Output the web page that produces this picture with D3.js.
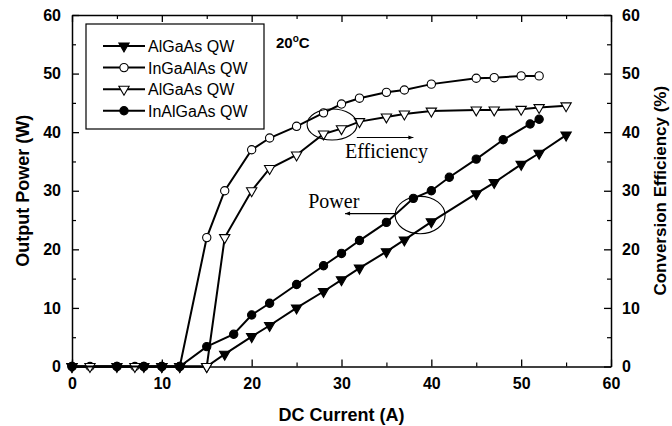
<!DOCTYPE html>
<html>
<head>
<meta charset="utf-8">
<script src="https://cdn.jsdelivr.net/npm/d3@7"></script>
<style>
    body { margin: 0; background: white; }
    svg { font-family: Arial, "Liberation Sans", sans-serif; display: block; }
</style>
</head>
<body>
<svg id="chart"></svg>
<script>
    // series (current in A, power in W, efficiency in %)
    let seriesNames = ["AlGaAs QW", "InGaAlAs QW", "AlGaAs QW", "InAlGaAs QW"];

    let algaasPowerX = [0, 5, 8, 10, 12, 15, 17, 20, 22, 25, 28, 30, 32, 35, 37, 40, 45, 47, 50, 52, 55];
    let algaasPowerY = [0, 0, 0, 0, 0, 0, 2.1, 5.1, 7.0, 10.0, 12.8, 14.8, 16.8, 19.6, 21.6, 24.7, 29.5, 31.4, 34.5, 36.4, 39.5];

    let ingaalasEffX = [0, 2, 5, 7, 8, 10, 12, 15, 17, 20, 22, 25, 28, 30, 32, 35, 37, 40, 45, 47, 50, 52];
    let ingaalasEffY = [0, 0, 0, 0, 0, 0, 0, 22, 30, 37, 39, 41, 43.3, 44.8, 45.8, 46.8, 47.2, 48.2, 49.2, 49.3, 49.6, 49.6];

    let algaasEffX = [0, 2, 7, 10, 12, 15, 17, 20, 22, 25, 28, 30, 32, 35, 37, 40, 45, 47, 50, 52, 55];
    let algaasEffY = [0, 0, 0, 0, 0, 0, 22, 30, 33.8, 36.1, 39.7, 40.6, 41.8, 42.6, 43.1, 43.6, 43.8, 43.8, 43.9, 44.2, 44.5];

    let inalgaasPowerX = [0, 5, 8, 10, 12, 15, 18, 20, 22, 25, 28, 30, 32, 35, 38, 40, 42, 45, 48, 51, 52];
    let inalgaasPowerY = [0, 0, 0, 0, 0, 3.4, 5.5, 8.8, 10.8, 14.0, 17.2, 19.3, 21.5, 24.6, 28.7, 30.0, 32.3, 35.4, 38.7, 41.4, 42.2];

    let majorTicks = [0, 10, 20, 30, 40, 50, 60];
    let minorTicks = [5, 15, 25, 35, 45, 55];

    function getConfig() {
        let width = 672;
        let height = 426;
        let margin = { top: 15, bottom: 59.5, left: 72, right: 61 };
        let bodyWidth = width - margin.left - margin.right;
        let bodyHeight = height - margin.top - margin.bottom;
        let container = d3.select("#chart").attr("width", width).attr("height", height);
        return { width, height, margin, bodyWidth, bodyHeight, container };
    }

    function getScales(config) {
        let xScale = d3.scaleLinear().domain([0, 60]).range([0, config.bodyWidth]);
        let yScale = d3.scaleLinear().domain([0, 60]).range([config.bodyHeight, 0]);
        return { xScale, yScale };
    }

    function symbolPath(kind, size) {
        let type = kind.startsWith("tri") ? d3.symbolTriangle : d3.symbolCircle;
        return d3.symbol().type(type).size(size)();
    }

    function drawMarker(sel, kind) {
        sel.append("path")
            .attr("d", kind.startsWith("tri") ? symbolPath(kind, 46) : symbolPath(kind, 54))
            .attr("transform", kind.startsWith("tri") ? "rotate(180)" : null)
            .attr("fill", kind.endsWith("Open") ? "white" : "black")
            .attr("stroke", "black")
            .attr("stroke-width", 1.1);
    }

    function drawAxes(scales, config) {
        let { xScale, yScale } = scales;
        let { container, margin, bodyWidth, bodyHeight } = config;
        let g = container.append("g").attr("transform", `translate(${margin.left},${margin.top})`);

        let axes = [
            { axis: d3.axisBottom(xScale), t: `translate(0,${bodyHeight})`, labels: true },
            { axis: d3.axisTop(xScale), t: "translate(0,0)", labels: false },
            { axis: d3.axisLeft(yScale), t: "translate(0,0)", labels: true },
            { axis: d3.axisRight(yScale), t: `translate(${bodyWidth},0)`, labels: true }
        ];
        axes.forEach(a => {
            let major = g.append("g").attr("transform", a.t)
                .call(a.axis.tickValues(majorTicks).tickSizeInner(-7).tickSizeOuter(0).tickPadding(11)
                    .tickFormat(a.labels ? d3.format("d") : ""));
            major.select(".domain").attr("stroke-width", 1.5);
            major.selectAll(".tick line").attr("stroke-width", 1.3);
            major.selectAll("text")
                .style("font-size", "16px")
                .style("font-weight", "bold")
                .attr("fill", "black");
            let minor = g.append("g").attr("transform", a.t)
                .call(a.axis.tickValues(minorTicks).tickSizeInner(-4).tickSizeOuter(0).tickFormat(""));
            minor.select(".domain").remove();
            minor.selectAll(".tick line").attr("stroke-width", 1.2);
        });

        // fix bottom labels vertical offset
        container.append("text")
            .attr("x", margin.left + bodyWidth / 2)
            .attr("y", 421)
            .attr("text-anchor", "middle")
            .style("font-size", "18px")
            .style("font-weight", "bold")
            .text("DC Current (A)");

        container.append("text")
            .attr("transform", `translate(29,${margin.top + bodyHeight / 2}) rotate(-90)`)
            .attr("text-anchor", "middle")
            .style("font-size", "18px")
            .style("font-weight", "bold")
            .text("Output Power (W)");

        container.append("text")
            .attr("transform", `translate(666,${margin.top + bodyHeight / 2}) rotate(-90)`)
            .attr("text-anchor", "middle")
            .style("font-size", "17px")
            .style("font-weight", "bold")
            .text("Conversion Efficiency (%)");
    }

    function drawSeries(scales, config) {
        let { xScale, yScale } = scales;
        let { container, margin } = config;
        let g = container.append("g").attr("transform", `translate(${margin.left},${margin.top})`);

        let series = [
            { xs: algaasPowerX, ys: algaasPowerY, kind: "triFilled" },
            { xs: ingaalasEffX, ys: ingaalasEffY, kind: "circleOpen" },
            { xs: algaasEffX, ys: algaasEffY, kind: "triOpen" },
            { xs: inalgaasPowerX, ys: inalgaasPowerY, kind: "circleFilled" }
        ];

        let line = d3.line().x(d => xScale(d[0])).y(d => yScale(d[1]));

        series.forEach(s => {
            let pts = s.xs.map((x, i) => [x, s.ys[i]]);
            g.append("path")
                .datum(pts)
                .attr("d", line)
                .attr("fill", "none")
                .attr("stroke", "black")
                .attr("stroke-width", 2);
            g.selectAll(null)
                .data(pts)
                .enter().append("g")
                .attr("transform", d => `translate(${xScale(d[0])},${yScale(d[1])})`)
                .each(function () { drawMarker(d3.select(this), s.kind); });
        });

        return series;
    }

    function drawLegend(series, config) {
        let { container } = config;
        let legend = container.append("g").attr("transform", "translate(86,24)");
        legend.append("rect")
            .attr("width", 178)
            .attr("height", 105)
            .attr("fill", "white")
            .attr("stroke", "black")
            .attr("stroke-width", 1.2);

        let rows = legend.selectAll(".entry")
            .data(series)
            .enter().append("g")
            .attr("class", "entry")
            .attr("transform", (d, i) => `translate(0,${22 + i * 21.6})`);
        rows.append("line")
            .attr("x1", 17).attr("x2", 59)
            .attr("stroke", "black").attr("stroke-width", 2);
        rows.append("g")
            .attr("transform", "translate(38,0)")
            .each(function (d) { drawMarker(d3.select(this), d.kind); });
        rows.append("text")
            .attr("x", 62)
            .attr("y", 6)
            .style("font-size", "16px")
            .text((d, i) => seriesNames[i]);

        let temp = container.append("text")
            .attr("x", 276)
            .attr("y", 48)
            .style("font-size", "15px")
            .style("font-weight", "bold");
        temp.append("tspan").text("20");
        temp.append("tspan").attr("dy", -6).style("font-size", "10px").text("o");
        temp.append("tspan").attr("dy", 6).text("C");
    }

    function drawAnnotations(scales, config) {
        let { xScale, yScale } = scales;
        let { container, margin } = config;
        let g = container.append("g").attr("transform", `translate(${margin.left},${margin.top})`);

        container.append("defs").append("marker")
            .attr("id", "arrow")
            .attr("viewBox", "0 0 10 10")
            .attr("refX", 10).attr("refY", 5)
            .attr("markerWidth", 9).attr("markerHeight", 5)
            .attr("orient", "auto")
            .attr("markerUnits", "userSpaceOnUse")
            .append("path")
            .attr("d", "M0,1 L10,5 L0,9 Z")
            .attr("fill", "black");

        // efficiency callout
        g.append("ellipse")
            .attr("cx", xScale(28.95)).attr("cy", yScale(41.3))
            .attr("rx", 25).attr("ry", 15.5)
            .attr("fill", "none").attr("stroke", "black").attr("stroke-width", 1.1);
        g.append("line")
            .attr("x1", xScale(31.7)).attr("y1", yScale(39.1))
            .attr("x2", xScale(38.0)).attr("y2", yScale(39.1))
            .attr("stroke", "black").attr("stroke-width", 1.1)
            .attr("marker-end", "url(#arrow)");
        g.append("text")
            .attr("x", xScale(30.4)).attr("y", yScale(35.6))
            .style("font-family", "'Liberation Serif', 'Times New Roman', serif")
            .style("font-size", "20px")
            .text("Efficiency");

        // power callout
        g.append("ellipse")
            .attr("cx", xScale(38.75)).attr("cy", yScale(25.85))
            .attr("rx", 25).attr("ry", 18.7)
            .attr("fill", "none").attr("stroke", "black").attr("stroke-width", 1.1);
        g.append("line")
            .attr("x1", xScale(36.0)).attr("y1", yScale(26.1))
            .attr("x2", xScale(30.4)).attr("y2", yScale(26.1))
            .attr("stroke", "black").attr("stroke-width", 1.1)
            .attr("marker-end", "url(#arrow)");
        g.append("text")
            .attr("x", xScale(26.3)).attr("y", yScale(27.0))
            .style("font-family", "'Liberation Serif', 'Times New Roman', serif")
            .style("font-size", "20px")
            .text("Power");
    }

    function drawChart() {
        let config = getConfig();
        let scales = getScales(config);
        drawAxes(scales, config);
        let series = drawSeries(scales, config);
        drawAnnotations(scales, config);
        drawLegend(series, config);
    }
    drawChart();
</script>
</body>
</html>
